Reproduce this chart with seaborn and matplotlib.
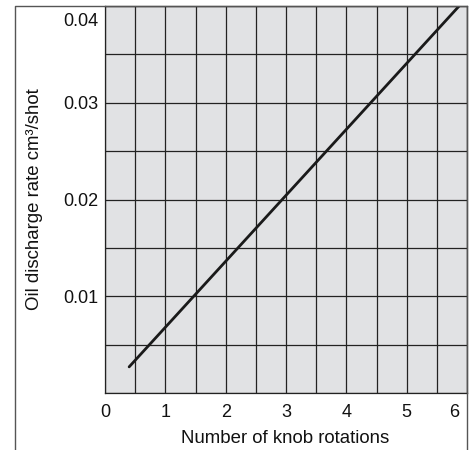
import matplotlib
matplotlib.use("Agg")
import matplotlib.pyplot as plt
import matplotlib.transforms as mtransforms
from matplotlib.lines import Line2D
import seaborn as sns
import pandas as pd
import numpy as np

# values
rotations = [0.4, 5.87]
discharge = [0.0027, 0.04]
x_ticks = [0, 1, 2, 3, 4, 5, 6]
y_ticks = [0.01, 0.02, 0.03, 0.04]
y_tick_labels = ["0.01", "0.02", "0.03", "0.04"]

sns.set_style("white", {"axes.facecolor": "#e1e2e4"})
plt.rcParams["font.family"] = ["Liberation Sans", "DejaVu Sans"]
plt.rcParams["font.size"] = 13

df = pd.DataFrame({"rotations": rotations, "discharge": discharge})

fig = plt.figure(figsize=(4.74, 4.5), dpi=100)
ax = fig.add_axes([105 / 474, 57 / 450, 362 / 474, 387 / 450])

sns.lineplot(data=df, x="rotations", y="discharge", color="#1a1a1a",
             linewidth=2.0, ax=ax, zorder=3)

ax.set_xlim(0, 6)
ax.set_ylim(0, 0.04)
ax.set_xticks(x_ticks)
ax.set_yticks(y_ticks)
ax.set_yticklabels(y_tick_labels)
ax.set_xticks(np.arange(0, 6.01, 0.5), minor=True)
ax.set_yticks(np.arange(0, 0.0401, 0.005), minor=True)
ax.grid(which="both", color="#222222", linewidth=0.9)
ax.set_axisbelow(False)
ax.tick_params(which="both", length=0, colors="#111111", labelsize=13)
ax.tick_params(axis="x", pad=8)
ax.tick_params(axis="y", pad=5)
for s in ax.spines.values():
    s.set_color("#222222")
    s.set_linewidth(0.9)

# nudge the edge labels inward like the original
lbl6 = ax.get_xticklabels()[-1]
lbl6.set_transform(lbl6.get_transform() + mtransforms.ScaledTranslation(-13 / 100, 0, fig.dpi_scale_trans))
lbl4 = ax.get_yticklabels()[-1]
lbl4.set_transform(lbl4.get_transform() + mtransforms.ScaledTranslation(0, -14 / 100, fig.dpi_scale_trans))

ax.set_xlabel("Number of knob rotations", color="#111111", fontsize=13.4)
ax.set_ylabel("Oil discharge rate cm³/shot", color="#111111", fontsize=13.4)
ax.xaxis.set_label_coords(0.497, -0.095)
ax.yaxis.set_label_coords(-0.17, 0.5)

# outer frame
fx0, fx1, fy = 14.5 / 474, 466.5 / 474, 1 - 6 / 450
frame = Line2D([fx0, fx0, fx1, fx1], [0, fy, fy, 0], transform=fig.transFigure,
               color="#555555", linewidth=1.0)
fig.add_artist(frame)

fig.savefig("out.png", dpi=100)
